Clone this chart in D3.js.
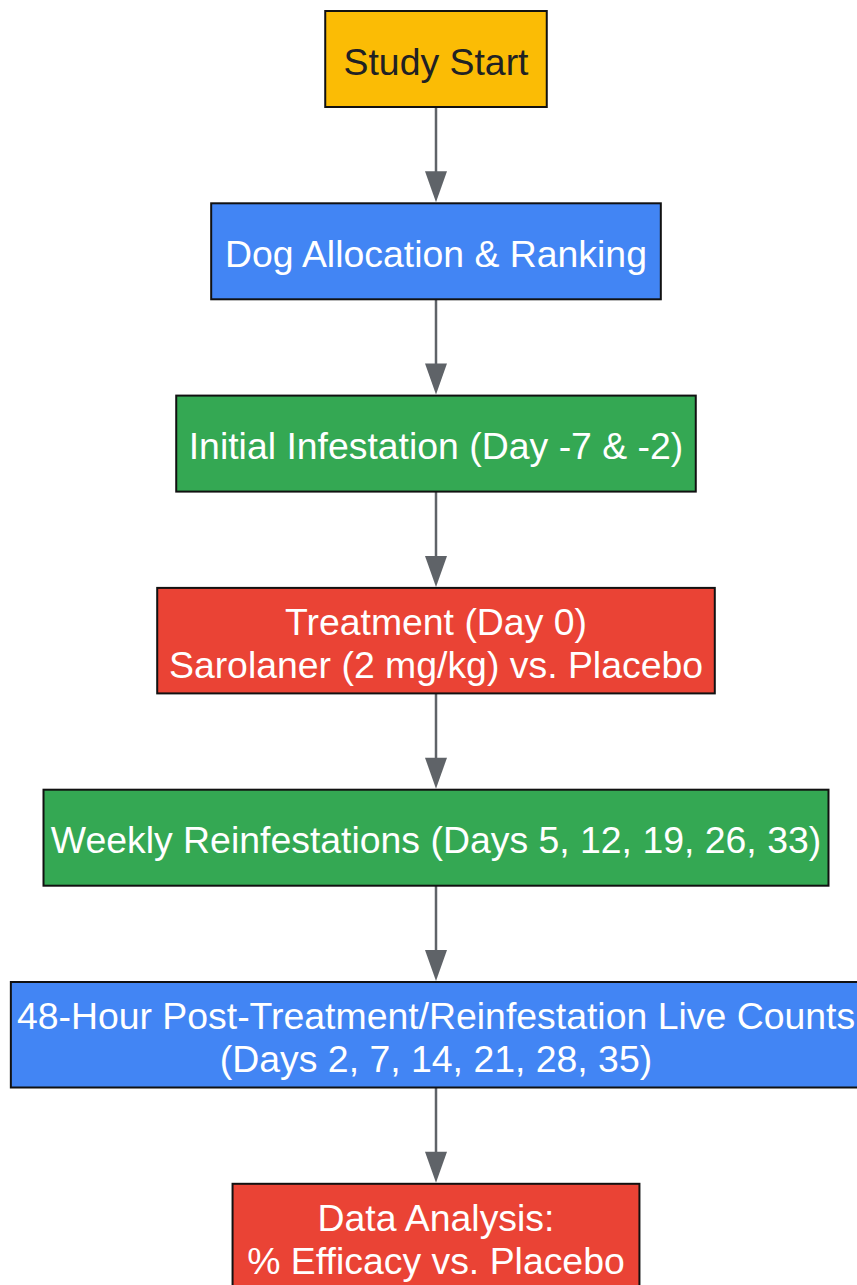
<!DOCTYPE html>
<html>
<head>
<meta charset="utf-8">
<script src="https://cdn.jsdelivr.net/npm/d3@7"></script>
<style>
  html, body { margin: 0; padding: 0; background: #ffffff; overflow: hidden; }
  svg { display: block; }
</style>
</head>
<body>
<svg id="chart" width="857" height="1285"></svg>
<script>
// ---- data ----
const steps = [
  "Study Start",
  "Dog Allocation & Ranking",
  "Initial Infestation (Day -7 & -2)",
  "Treatment (Day 0)\nSarolaner (2 mg/kg) vs. Placebo",
  "Weekly Reinfestations (Days 5, 12, 19, 26, 33)",
  "48-Hour Post-Treatment/Reinfestation Live Counts\n(Days 2, 7, 14, 21, 28, 35)",
  "Data Analysis:\n% Efficacy vs. Placebo"
];
const stepKinds = ["start", "setup", "infest", "treat", "infest", "count", "treat"];
const kindColors = {
  start: "#FBBC05",
  setup: "#4285F4",
  infest: "#34A853",
  treat: "#EA4335",
  count: "#4285F4"
};
const kindText = { start: "#202124", setup: "#ffffff", infest: "#ffffff", treat: "#ffffff", count: "#ffffff" };

// ---- style / layout constants ----
const cx = 436;
const fontSize = 37.4;
const lineH = 42.7;
const capH = fontSize * 0.716;
const baseH = 96, extraPerLine = 9.5;
const gap = 96.3, top0 = 11;
const arrowColor = "#5f6368";
const headW = 22, headL = 31;

const svg = d3.select("#chart");

// compute layout
const nodes = steps.map((s, i) => ({ label: s, lines: s.split("\n"), kind: stepKinds[i] }));
let y = top0;
nodes.forEach(n => {
  n.h = baseH + (n.lines.length - 1) * extraPerLine;
  n.y = y;
  y += n.h + gap;
});

const linksG = svg.append("g");
const nodesG = svg.append("g");

const g = nodesG.selectAll("g.node").data(nodes).join("g").attr("class", "node");
const rects = g.append("rect")
  .attr("fill", d => kindColors[d.kind])
  .attr("stroke", "#111")
  .attr("stroke-width", 2);

const texts = g.append("text")
  .attr("text-anchor", "middle")
  .attr("font-family", "'Liberation Sans', Arial, Helvetica, sans-serif")
  .attr("font-size", fontSize)
  .attr("fill", d => kindText[d.kind]);

texts.each(function(d) {
  const t = d3.select(this);
  const n = d.lines.length;
  const c = d.y + d.h / 2;
  d.lines.forEach((ln, i) => {
    t.append("tspan")
      .attr("x", cx)
      .attr("y", c + (i - (n - 1) / 2) * lineH + capH / 2 + 2.3)
      .text(ln);
  });
});

texts.each(function(d) {
  let maxW = 0;
  d3.select(this).selectAll("tspan").each(function() {
    maxW = Math.max(maxW, this.getComputedTextLength());
  });
  d.tw = maxW;
  d.w = 0.9625 * maxW + 43.5;
});

rects
  .attr("x", d => cx - d.w / 2)
  .attr("y", d => d.y)
  .attr("width", d => d.w)
  .attr("height", d => d.h);

const links = d3.pairs(nodes);
const lg = linksG.selectAll("g.link").data(links).join("g").attr("class", "link");
lg.append("line")
  .attr("x1", cx).attr("x2", cx)
  .attr("y1", d => d[0].y + d[0].h)
  .attr("y2", d => d[1].y - headL + 2)
  .attr("stroke", arrowColor)
  .attr("stroke-width", 2.5);
lg.append("path")
  .attr("d", d => {
    const ty = d[1].y - 1;
    return `M${cx - headW / 2},${ty - headL} L${cx + headW / 2},${ty - headL} L${cx},${ty} Z`;
  })
  .attr("fill", arrowColor);
</script>
</body>
</html>
